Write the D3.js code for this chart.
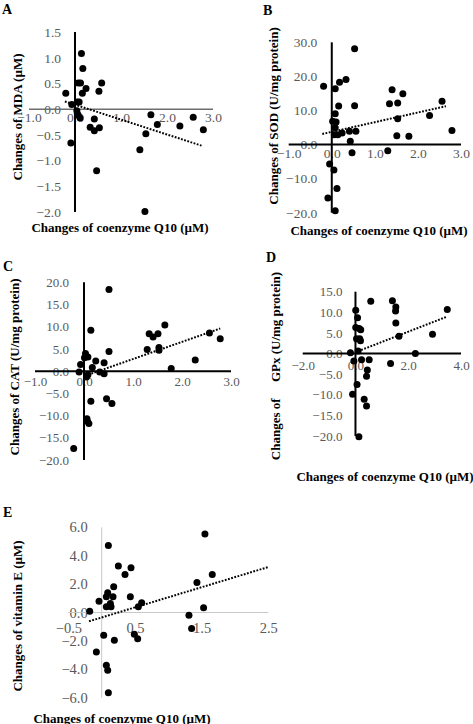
<!DOCTYPE html>
<html><head><meta charset="utf-8">
<script src="https://cdn.jsdelivr.net/npm/d3@7"></script>
<style>
html,body{margin:0;padding:0;background:#fff;}
svg{display:block;}
</style></head>
<body>
<svg id="chart" width="473" height="724"></svg>
<script>
// ---------- DATA ----------
// Panel A: MDA
const mdaQ10 = [-0.20,0.14,0.17,0.07,0.12,0.24,0.16,0.58,0.52,-0.07,0.05,0.09,0.04,0.07,0.11,0.05,-0.09,0.42,0.33,0.42,0.53,0.47,1.65,1.79,1.54,1.41,1.52,2.28,2.57,2.79];
const mdaVal = [0.31,1.08,0.79,0.51,0.51,0.40,0.31,0.51,0.35,0.09,0.14,0.14,-0.03,-0.12,-0.17,-0.09,-0.66,-0.19,-0.35,-0.42,-0.36,-1.20,-0.11,-0.30,-0.48,-0.79,-1.99,-0.33,-0.16,-0.40];
const mdaTrendX = [-0.22, 2.75];
const mdaTrendY = [0.15, -0.71];
const mdaXTicks = [-1.0, 0.0, 1.0, 2.0, 3.0];
const mdaYTicks = [-2.0, -1.5, -1.0, -0.5, 0.0, 0.5, 1.0, 1.5];

// Panel B: SOD
const sodQ10 = [-0.19,0.53,0.08,0.18,0.33,0.16,0.53,0.08,0.02,0.10,0.08,0.06,0.14,0.24,0.41,0.56,0.43,0.47,-0.05,0.05,0.12,-0.09,0.08,1.40,1.34,1.53,1.65,1.53,1.51,1.79,1.30,2.27,2.56,2.79];
const sodVal = [17.1,28.1,16.4,18.3,19.1,11.3,11.4,9.0,6.8,6.6,4.9,2.9,2.9,3.4,3.9,3.9,1.0,-2.4,-5.7,-7.5,-12.9,-15.7,-19.4,16.1,12.0,12.2,14.9,7.6,2.6,2.4,-1.8,8.5,12.7,4.1];
const sodTrendX = [-0.22, 2.65];
const sodTrendY = [3.1, 11.25];
const sodXTicks = [-1.0, 0.0, 1.0, 2.0, 3.0];
const sodYTicks = [-20, -10, 0, 10, 20, 30];

// Panel C: CAT
const catQ10 = [0.51,0.14,-0.07,-0.10,0.03,0.08,0.01,0.17,0.24,0.08,0.05,0.32,0.41,0.41,0.51,0.46,0.57,0.14,0.07,0.10,0.06,-0.21,1.29,1.33,1.41,1.51,1.53,1.53,1.65,1.78,2.27,2.56,2.78];
const catVal = [18.4,9.2,1.5,-0.2,4.0,3.2,3.0,0.8,2.3,-0.8,-1.3,-0.2,1.9,-0.6,4.4,-6.2,-7.3,-6.8,-11.3,-11.8,-10.7,-17.4,4.9,8.4,7.7,8.4,5.3,4.7,10.4,0.6,2.5,8.6,7.3];
const catTrendX = [0.15, 2.78];
const catTrendY = [-0.55, 9.6];
const catXTicks = [-1.0, 0.0, 1.0, 2.0, 3.0];
const catYTicks = [-20, -15, -10, -5, 0, 5, 10, 15, 20];

// Panel D: GPx
const gpxQ10 = [0.58,1.40,1.53,1.52,1.53,1.65,2.27,2.92,3.48,-0.19,0.01,0.08,0.01,0.14,0.20,0.04,0.16,0.19,0.10,-0.06,0.23,0.52,0.45,0.42,0.06,-0.11,0.33,0.42,0.13,1.33];
const gpxVal = [12.7,12.8,11.3,10.3,7.4,4.2,0.0,4.7,10.7,0.2,10.5,8.7,6.3,6.1,5.8,3.6,3.6,3.1,0.6,-1.8,-1.5,-1.5,-4.0,-5.5,-7.5,-9.9,-11.1,-12.7,-20.2,-2.4];
const gpxTrendX = [0.10, 3.45];
const gpxTrendY = [0.57, 8.9];
const gpxXTicks = [-2.0, 0.0, 2.0, 4.0];
const gpxYTicks = [-20, -15, -10, -5, 0, 5, 10, 15];

// Panel E: vitamin E
const vitQ10 = [-0.18,-0.04,0.10,0.09,0.07,0.07,0.13,0.14,0.18,0.17,0.25,0.35,0.44,0.43,0.55,0.60,0.03,0.19,-0.08,0.49,0.54,0.07,0.09,0.10,1.31,1.35,1.43,1.53,1.55,1.66];
const vitVal = [0.09,0.80,4.71,1.39,1.11,0.40,0.64,0.40,1.81,1.11,3.27,2.68,3.15,1.11,0.40,0.68,-1.60,-1.95,-2.78,-1.53,-1.84,-3.72,-4.07,-5.65,-0.19,-1.13,2.12,0.33,5.53,2.68];
const vitTrendX = [-0.19, 2.5];
const vitTrendY = [-0.62, 3.2];
const vitXTicks = [-0.5, 0.5, 1.5, 2.5];
const vitYTicks = [-6, -4, -2, 0, 2, 4, 6];

const xTitle = "Changes of coenzyme Q10 (\u00b5M)";

// ---------- DRAWING ----------
const svg = d3.select("#chart");
const SERIF = "'Liberation Serif','Times New Roman',serif";
const fmt = d3.format(".1f");

function panel(cfg) {
  const g = svg.append("g");
  const x = d3.scaleLinear().domain(cfg.xDomain).range(cfg.xRange);
  const y = d3.scaleLinear().domain(cfg.yDomain).range(cfg.yRange);
  const x0 = x(0), y0 = y(0);

  const yAxis = d3.axisLeft(y).tickValues(cfg.yTicks).tickFormat(fmt).tickSize(0).tickPadding(cfg.yPad);
  const ya = g.append("g").attr("transform", `translate(${x0},0)`).call(yAxis);
  ya.select(".domain").remove();
  ya.selectAll("text").attr("font-family", SERIF).attr("font-size", cfg.tickSize).attr("fill", "#595959");

  const xAxis = d3.axisBottom(x).tickValues(cfg.xTicks).tickFormat(fmt).tickSize(0).tickPadding(cfg.xPad);
  const xa = g.append("g").attr("transform", `translate(0,${y0})`).call(xAxis);
  xa.select(".domain").remove();
  xa.selectAll("text").attr("font-family", SERIF).attr("font-size", cfg.tickSize).attr("fill", "#595959");

  g.append("line").attr("x1", x.range()[0]).attr("x2", x.range()[1]).attr("y1", y0).attr("y2", y0)
    .attr("stroke", cfg.xAxisColor).attr("stroke-width", cfg.xAxisWidth);
  g.append("line").attr("x1", x0).attr("x2", x0).attr("y1", y.range()[0]).attr("y2", y.range()[1])
    .attr("stroke", cfg.yAxisColor).attr("stroke-width", cfg.yAxisWidth);

  g.append("g").selectAll("circle").data(cfg.xs.map((v, i) => [v, cfg.ys[i]])).join("circle")
    .attr("cx", d => x(d[0])).attr("cy", d => y(d[1])).attr("r", cfg.r).attr("fill", "#000");

  g.append("line")
    .attr("x1", x(cfg.tx[0])).attr("y1", y(cfg.ty[0]))
    .attr("x2", x(cfg.tx[1])).attr("y2", y(cfg.ty[1]))
    .attr("stroke", "#000").attr("stroke-width", 2).attr("stroke-dasharray", "1.8,1.5");

  g.append("text").attr("x", cfg.letterPos[0]).attr("y", cfg.letterPos[1]).text(cfg.letter)
    .attr("font-family", SERIF).attr("font-weight", "bold").attr("font-size", 14).attr("fill", "#000");

  g.append("text").attr("transform", `translate(${cfg.yTitlePos[0]},${cfg.yTitlePos[1]}) rotate(-90)`)
    .attr("text-anchor", "middle").attr("dominant-baseline", "central")
    .attr("font-family", SERIF).attr("font-weight", "bold").attr("font-size", 13)
    .style("white-space", "pre").text(cfg.yTitle);

  if (cfg.xTitlePos) {
    g.append("text").attr("x", cfg.xTitlePos[0]).attr("y", cfg.xTitlePos[1])
      .attr("text-anchor", "middle").attr("font-family", SERIF).attr("font-weight", "bold")
      .attr("font-size", 13).text(xTitle);
  }
}

panel({
  xs: mdaQ10, ys: mdaVal, tx: mdaTrendX, ty: mdaTrendY, xTicks: mdaXTicks, yTicks: mdaYTicks,
  xDomain: [-1, 3], xRange: [29, 213], yDomain: [-2, 1.5], yRange: [212, 32],
  xAxisColor: "#6e6e6e", xAxisWidth: 1.5, yAxisColor: "#000", yAxisWidth: 2,
  tickSize: 13.5, yPad: 14, xPad: 3, r: 3.5,
  letter: "A", letterPos: [2, 13.5], yTitle: "Changes of MDA (\u00b5M)", yTitlePos: [17, 117], xTitlePos: [120, 232]
});
panel({
  xs: sodQ10, ys: sodVal, tx: sodTrendX, ty: sodTrendY, xTicks: sodXTicks, yTicks: sodYTicks,
  xDomain: [-1, 3], xRange: [288.7, 461], yDomain: [-20, 30], yRange: [212.7, 42.3],
  xAxisColor: "#000", xAxisWidth: 2, yAxisColor: "#000", yAxisWidth: 2,
  tickSize: 13.5, yPad: 14.5, xPad: 4, r: 3.5,
  letter: "B", letterPos: [263, 14.5], yTitle: "Changes of SOD (U/mg protein)", yTitlePos: [273, 116], xTitlePos: [379, 235]
});
panel({
  xs: catQ10, ys: catVal, tx: catTrendX, ty: catTrendY, xTicks: catXTicks, yTicks: catYTicks,
  xDomain: [-1, 3], xRange: [35, 231], yDomain: [-20, 20], yRange: [460, 282.3],
  xAxisColor: "#000", xAxisWidth: 2, yAxisColor: "#000", yAxisWidth: 2,
  tickSize: 13, yPad: 15, xPad: 6, r: 3.5,
  letter: "C", letterPos: [3, 270.5], yTitle: "Changes of CAT (U/mg protein)", yTitlePos: [14, 367], xTitlePos: null
});
panel({
  xs: gpxQ10, ys: gpxVal, tx: gpxTrendX, ty: gpxTrendY, xTicks: gpxXTicks, yTicks: gpxYTicks,
  xDomain: [-2, 4], xRange: [302.7, 461], yDomain: [-20, 15], yRange: [436, 291.7],
  xAxisColor: "#000", xAxisWidth: 2, yAxisColor: "#000", yAxisWidth: 2,
  tickSize: 13, yPad: 13, xPad: 7, r: 3.5,
  letter: "D", letterPos: [266, 262], yTitle: "Changes of     GPx (U/mg protein)", yTitlePos: [275, 366], xTitlePos: [385, 481]
});
panel({
  xs: vitQ10, ys: vitVal, tx: vitTrendX, ty: vitTrendY, xTicks: vitXTicks, yTicks: vitYTicks,
  xDomain: [-0.5, 2.5], xRange: [68.4, 268.2], yDomain: [-6, 6], yRange: [697.7, 527.3],
  xAxisColor: "#c8c8c8", xAxisWidth: 1, yAxisColor: "#c8c8c8", yAxisWidth: 1,
  tickSize: 14.5, yPad: 14, xPad: 10, r: 3.5,
  letter: "E", letterPos: [3, 517], yTitle: "Changes of vitamin E (\u00b5M)", yTitlePos: [17, 616], xTitlePos: [122, 722.5]
});
</script>
</body></html>
